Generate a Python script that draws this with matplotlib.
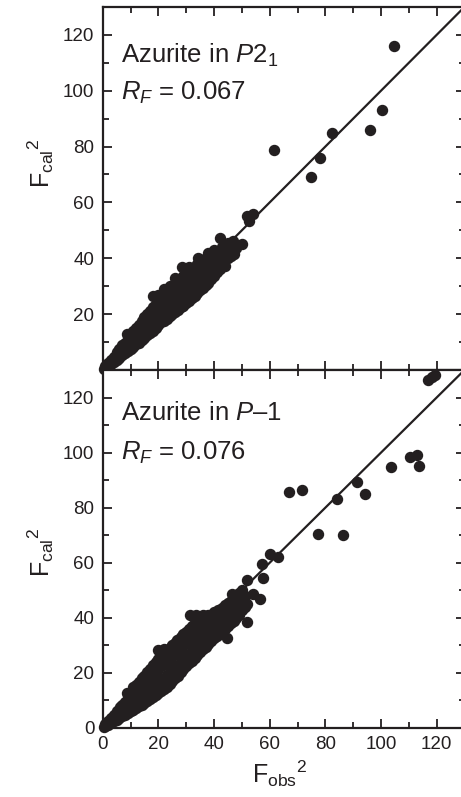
#!/usr/bin/env python3
import matplotlib.pyplot as plt
from matplotlib.ticker import MultipleLocator, FuncFormatter

plt.rcParams['font.family'] = ['Liberation Sans', 'DejaVu Sans']
plt.rcParams['mathtext.fontset'] = 'custom'
plt.rcParams['mathtext.rm'] = 'Liberation Sans'
plt.rcParams['mathtext.it'] = 'Liberation Sans:italic'
plt.rcParams['mathtext.bf'] = 'Liberation Sans:bold'

ink = '#231f20'

# (Fobs^2, Fcal^2), refinement in P2_1
p21_pts = [
    (0.5,0.4),(1,0.8),(1,1.5),(2,1.5),(2,2.5),(3,2.2),(3,3.6),(4,3),(4,4.8),
    (5,3.6),(5,5.2),(5,6.5),(6,4.4),(6,6),(6,7.5),(7,5.2),(7,7),(7,8.8),
    (8,6),(8,7.8),(8,9.6),(8.6,12.9),(9,6.8),(9,8.6),(9,10.8),(9,12),
    (10,7.6),(10,9.5),(10,11.5),(10,13),(11,8.4),(11,10.5),(11,12.5),(11,13.8),
    (12,9.2),(12,11.4),(12,13.5),(12,15),(13,9.8),(13,12.3),(13,14.5),(13,16.2),
    (14,10.8),(14,13.2),(14,15.6),(14,17.5),(15,11.6),(15,14.2),(15,16.6),(15,19),
    (16,12.5),(16,15),(16,17.5),(16,20),(17,13.2),(17,16),(17,18.6),(17,21),
    (18,14),(18,17),(18,19.6),(18,22.5),(18.2,26.5),(19,15),(19,18),(19,20.5),(19,23.5),
    (20,16),(20,19),(20,21.5),(20,24.5),(20,26.8),(21,17),(21,20),(21,22.6),(21,25.5),
    (22,17.6),(22,20.8),(22,23.6),(22,26.5),(22,29),(23,18.4),(23,21.6),(23,24.6),(23,27.6),
    (24,19.2),(24,22.5),(24,25.6),(24,28.5),(24,30.1),(25,20),(25,23.4),(25,26.6),(25,29.5),
    (26,20.8),(26,24.2),(26,27.6),(26,30.5),(26,33),(27,21.6),(27,25),(27,28.5),(27,31.5),
    (28,22.4),(28,26),(28,29.5),(28,32.5),(28.4,36.7),(29,23),(29,26.8),(29,30.4),(29,33.5),
    (30,24),(30,27.6),(30,31.2),(30,34.5),(31,24.8),(31,28.5),(31,32),(31,35),(31,37),
    (32,25.6),(32,29.4),(32,33),(32,36),(33,26.6),(33,30.2),(33,34),(33,37),
    (34,27.6),(34,31),(34,34.8),(34,38),(34.4,40.2),(35,28.5),(35,32),(35,35.6),(35,39),
    (36,29.5),(36,33),(36,36.5),(36,38),(37,30.5),(37,34),(37,37.5),(37,40),
    (38,31.3),(38,35),(38,38.5),(38,42),(39,32.5),(39,36),(39,39.5),
    (40,33.5),(40,37),(40,40.5),(40,43),(41,35),(41,38),(41.4,41.4),
    (42,36),(42,39),(42,42.5),(42.2,47.4),(43,37.2),(43,40),(43,44),
    (44,37.2),(44,41),(45,40),(45,43),(45,45.5),(46,40.8),(46,44),(46.9,46.2),
    (47,41.5),(47,43),(48,43.5),(49.9,45),(51.8,55),(52.5,53.5),(54.1,55.7),
    (61.7,78.7),(75,69),(78,76),(82.5,85),(96,86),(100.5,93),(104.5,116),
]

# (Fobs^2, Fcal^2), refinement in P-1
p1_pts = [
    (0.5,0.4),(1,0.8),(1,1.6),(2,1.2),(2,2.6),(3,1.8),(3,3.5),(4,2.4),(4,4.6),
    (5,3),(5,4.5),(5,6),(6,3.6),(6,5.4),(6.2,7.7),(7,4.2),(7,6.2),(7,8.5),
    (8,4.8),(8,7),(8,9.5),(8.6,12.6),(9,5.4),(9,7.8),(9,10.4),(9,12),
    (10,6),(10,8.6),(10,11.4),(10,13),(11,6.6),(11,9.4),(11,12.4),(11,15),
    (12,7.2),(12,10.2),(12,13.4),(12,15.5),(13,7.8),(13,11),(13,14.4),(13,16.8),
    (14,8.5),(14,11.8),(14,15.4),(14,18),(15,9.2),(15,12.6),(15,16.4),(15,19),
    (16,9.8),(16,13.4),(16,17.4),(16,20.5),(17,10.5),(17,14.2),(17,18.4),(17,21.5),
    (18,11.2),(18,15),(18,19.4),(18,23),(19,11.9),(19,15.8),(19,20.4),(19,24),
    (20,12.6),(20,16.6),(20,21.4),(20,25),(20,28.3),(21,13.4),(21,17.4),(21,22.4),(21,26),
    (22,14.2),(22,18.3),(22,23.4),(22,27),(22,28.6),(23,15),(23,19.2),(23,24.3),(23,28),
    (24,16),(24,20.2),(24,25.2),(24,29),(25,17),(25,21),(25,26),(25,30),
    (26,18),(26,22),(26,27),(26,31),(26.6,31.9),(27,19),(27,23),(27,28),(27,32),
    (28,20.5),(28,24),(28,29),(28,33),(29,21.5),(29,25),(29,30),(29,34),
    (30,22.5),(30,26),(30,31),(30,35),(31,23.5),(31,27),(31,32),(31,36),(31.4,41),
    (32,24.5),(32,28),(32,33),(32,37),(33,25.5),(33,29),(33,34),(33,38),(33.5,41),
    (34,26.5),(34,30),(34,35),(34,39),(35,27.5),(35,28.9),(35,31),(35,36),(35,40),
    (36,28.5),(36,32),(36,37),(36.2,41),(37,29.5),(37,33),(37,38),(37,40.5),
    (38,30.5),(38.6,31.9),(38,34),(38,39),(38,41),(39,31.5),(39,35),(39,39.5),
    (40,32.5),(40,36),(40,40.5),(40,42),(41,33.5),(41,37),(41,41.5),(41.5,42.8),
    (42,34.5),(42,38),(42,42.5),(43,35),(43,39),(43,43.5),
    (44.5,32.5),(44,36),(44,40),(44,44.5),(45,37),(45,41),(45,45.5),
    (46,38),(46,42),(46,46),(46.3,48.8),(47,39),(47,43),(47,47),
    (48,40),(48,44),(48,48),(49,41),(49.3,42.8),(49,45),(49,49),
    (50,43),(50,46.5),(50,50),(51.7,38.5),(51,44),(51,48),(52,45),(51.7,53.7),
    (54.1,48.8),(56.5,47),(57.7,54.3),(57.1,59.7),(60.1,63.3),(63.1,62.1),
    (67,85.7),(71.7,86.3),(77.5,70.3),(84.1,83),(86.5,70.2),(91.3,89.3),(94.3,84.8),
    (103.5,94.7),(110.4,98.4),(112.8,99),(113.8,95),(117,126.4),(118.2,127.6),(119.4,128),
]

ideal = [0, 130]
xticks = [0, 20, 40, 60, 80, 100, 120]
yticks = [0, 20, 40, 60, 80, 100, 120]

fig = plt.figure(figsize=(4.61, 7.97), dpi=100)
ax1 = fig.add_axes([0.2228, 0.5358, 0.7848, 0.4555])
ax2 = fig.add_axes([0.2228, 0.0866, 0.7848, 0.4492])

def panel(ax, pts, title, rf, title_y, rf_y):
    xs = [p[0] for p in pts]
    ys = [p[1] for p in pts]
    ax.plot(ideal, ideal, color=ink, lw=1.6, zorder=2)
    ax.plot(xs, ys, 'o', ms=7.2, color=ink, mec=ink, zorder=3, clip_on=False)
    ax.set_xlim(0, 130)
    ax.set_ylim(0, 130)
    ax.set_xticks(xticks)
    ax.set_yticks(yticks)
    ax.xaxis.set_minor_locator(MultipleLocator(10))
    ax.yaxis.set_minor_locator(MultipleLocator(10))
    ax.tick_params(which='both', direction='in', top=True, right=True,
                   width=1.3, color=ink, labelsize=13.5, pad=6, labelcolor=ink)
    ax.tick_params(which='major', length=6.5)
    ax.tick_params(which='minor', length=4.3)
    for s in ax.spines.values():
        s.set_linewidth(1.6)
        s.set_color(ink)
    ax.text(6.5, title_y, title, fontsize=18.5, va='baseline', color=ink)
    ax.text(6.5, rf_y, rf, fontsize=18.5, va='baseline', color=ink)
    ax.set_ylabel(r'$\mathregular{F_{cal}{}^{2}}$', fontsize=18, color=ink)

panel(ax1, p21_pts, r'Azurite in $\mathit{P}\mathregular{2_1}$', r'$R_F$ = 0.067', 110, 96.8)
panel(ax2, p1_pts, r'Azurite in $\mathit{P}$–1', r'$R_F$ = 0.076', 111.7, 97.5)

ax1.tick_params(labelbottom=False)
ax1.yaxis.set_major_formatter(FuncFormatter(lambda v, p: '' if v == 0 else '%d' % v))
ax1.yaxis.set_label_coords(-0.13, 0.57)
ax2.yaxis.set_label_coords(-0.13, 0.49)
ax2.set_xlabel(r'$\mathregular{F_{obs}{}^{2}}$', fontsize=18, color=ink)
ax2.xaxis.set_label_coords(0.49, -0.085)

plt.savefig('out.png', dpi=100)
